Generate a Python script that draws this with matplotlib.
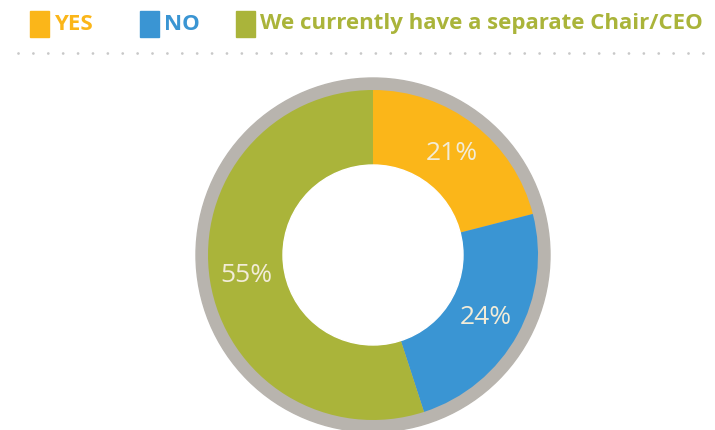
import matplotlib.pyplot as plt
from matplotlib.patches import Rectangle, Circle

# DATA
labels = ['YES', 'NO', 'We currently have a separate Chair/CEO']
shares = [21, 24, 55]
colors = ['#FBB619', '#3A95D3', '#AAB43A']

plt.rcParams['font.family'] = ['Lato', 'DejaVu Sans']

fig = plt.figure(figsize=(7.15, 4.3), dpi=100)
ax = fig.add_axes([0, 0, 1, 1])

cx, cy = 373, 175

# grey outer ring
ax.add_patch(Circle((cx, cy), 177, color='#B8B4AE', zorder=1))

wedges, _, autotexts = ax.pie(
    shares, colors=colors, startangle=90, counterclock=False,
    center=(cx, cy), radius=165, autopct='%d%%', pctdistance=0.78,
    wedgeprops=dict(width=75, linewidth=0), frame=True,
    textprops=dict(color='#F2ECD8', fontsize=19, family=['Open Sans', 'DejaVu Sans']))
for w in wedges:
    w.set_zorder(2)
for t in autotexts:
    t.set_zorder(3)
ax.add_patch(Circle((cx, cy), 90, color='white', zorder=2.5))
ax.set_xlim(0, 715)
ax.set_ylim(0, 430)
ax.set_aspect('equal')
ax.axis('off')

# legend
leg_x = [30, 140, 236]
for x, lab, c in zip(leg_x, labels, colors):
    ax.add_patch(Rectangle((x, 430 - 37), 19, 26, color=c, zorder=3))
    ax.text(x + 24, 430 - 24, lab, color=c, fontsize=16, fontweight='bold',
            family=['Open Sans', 'DejaVu Sans'], va='center', ha='left', zorder=3)

# dotted separator
ax.plot([18, 715], [430 - 53, 430 - 53], linestyle=(0, (0.01, 5.35)),
        color='#C8C8C8', linewidth=2, dash_capstyle='round')

fig.savefig('out.png', dpi=100)
